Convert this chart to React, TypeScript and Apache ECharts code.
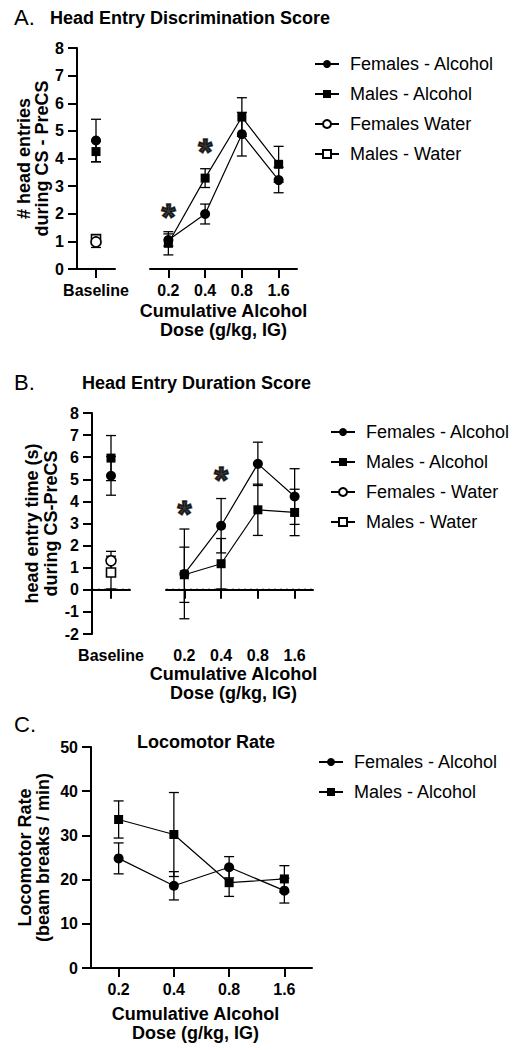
import React, { useEffect, useRef } from "react";
import * as echarts from "echarts";

// ---------- categories ----------
const baselineCats = ["Baseline"];
const doseCats = ["0.2", "0.4", "0.8", "1.6"];

// ---------- Panel A: Head Entry Discrimination Score ----------
const aBaseFemAlc = [4.65];
const aBaseFemAlcSem = [0.77];
const aBaseMaleAlc = [4.25];
const aBaseMaleAlcSem = [0.37];
const aBaseFemWater = [0.98];
const aBaseFemWaterSem = [0.2];
const aBaseMaleWater = [1.08];
const aBaseMaleWaterSem = [0.12];
const aFemAlc = [1.05, 1.99, 4.88, 3.22];
const aFemAlcSem = [0.22, 0.36, 0.79, 0.46];
const aMaleAlc = [0.93, 3.29, 5.5, 3.79];
const aMaleAlcSem = [0.42, 0.34, 0.7, 0.65];
const aSigCats = ["0.2", "0.4"];
const aSigY = [1.85, 4.2];

// ---------- Panel B: Head Entry Duration Score ----------
const bBaseFemAlc = [5.16];
const bBaseFemAlcSem = [0.88];
const bBaseMaleAlc = [5.96];
const bBaseMaleAlcSem = [1.02];
const bBaseFemWater = [1.31];
const bBaseFemWaterSem = [0.43];
const bBaseMaleWater = [0.78];
const bBaseMaleWaterSem = [0.74];
const bFemAlc = [0.72, 2.9, 5.7, 4.22];
const bFemAlcSem = [2.03, 1.23, 0.98, 1.26];
const bMaleAlc = [0.68, 1.18, 3.62, 3.5];
const bMaleAlcSem = [1.25, 1.14, 1.16, 1.05];
const bSigCats = ["0.2", "0.4"];
const bSigY = [3.4, 4.95];
const bZeroRef = [0];

// ---------- Panel C: Locomotor Rate ----------
const cFemAlc = [24.8, 18.6, 22.8, 17.5];
const cFemAlcSem = [3.5, 3.2, 2.4, 2.8];
const cMaleAlc = [33.6, 30.2, 19.3, 20.15];
const cMaleAlcSem = [4.2, 9.5, 3.1, 3.0];

// ---------- tick settings / names ----------
const aYTicks = { min: 0, max: 8, interval: 1 };
const bYTicks = { min: -2, max: 8, interval: 1 };
const cYTicks = { min: 0, max: 50, interval: 10 };

const FEM_ALC = "Females - Alcohol";
const MALE_ALC = "Males - Alcohol";
const FEM_WATER_A = "Females Water";
const FEM_WATER_B = "Females - Water";
const MALE_WATER = "Males - Water";
const DOSE_NAME = "Cumulative Alcohol\nDose (g/kg, IG)";

const FONT = "'Liberation Sans', Arial, sans-serif";
const BLACK = "#000";

const errRender = (params: any, api: any) => {
  const x = api.value(0);
  const m = api.value(1);
  const e = api.value(2);
  const top = api.coord([x, m + e]);
  const bot = api.coord([x, m - e]);
  const hw = 5;
  const style = { stroke: BLACK, lineWidth: 1.3, fill: null };
  return {
    type: "group",
    children: [
      { type: "line", shape: { x1: top[0], y1: top[1], x2: bot[0], y2: bot[1] }, style },
      { type: "line", shape: { x1: top[0] - hw, y1: top[1], x2: top[0] + hw, y2: top[1] }, style },
      { type: "line", shape: { x1: bot[0] - hw, y1: bot[1], x2: bot[0] + hw, y2: bot[1] }, style },
    ],
  };
};

const errSeries = (cats: string[], vals: number[], sems: number[], axis: number) => ({
  type: "custom",
  xAxisIndex: axis,
  yAxisIndex: axis,
  renderItem: errRender,
  data: cats.map((c, i) => [c, vals[i], sems[i]]),
  encode: { x: 0, y: 1 },
  z: 2,
  silent: true,
});

// dotted reference line drawn across the whole grid width
const zeroRender = (params: any, api: any) => {
  const y = api.value(0);
  const p = api.coord([0, y]);
  const cs = params.coordSys;
  return {
    type: "line",
    shape: { x1: cs.x, y1: p[1], x2: cs.x + cs.width, y2: p[1] },
    style: { stroke: BLACK, lineWidth: 2, lineDash: [2, 4], fill: null },
  };
};

const zeroSeries = (vals: number[], axis: number) => ({
  type: "custom",
  xAxisIndex: axis,
  yAxisIndex: axis,
  renderItem: zeroRender,
  data: vals.map((v) => [v]),
  encode: { y: 0 },
  z: 1,
  silent: true,
});

const lineSeries = (
  name: string,
  cats: string[],
  vals: number[],
  axis: number,
  symbol: string,
  filled: boolean
) => ({
  type: "line",
  name,
  xAxisIndex: axis,
  yAxisIndex: axis,
  data: cats.map((c, i) => [c, vals[i]]),
  symbol,
  symbolSize: symbol === "rect" ? 9 : 10,
  showAllSymbol: true,
  lineStyle: { color: BLACK, width: 1.2 },
  itemStyle: filled
    ? { color: BLACK, borderColor: BLACK, borderWidth: 0 }
    : { color: "#fff", borderColor: BLACK, borderWidth: 1.6 },
  z: 3,
  silent: true,
});

const sigSeries = (cats: string[], ys: number[], axis: number) => ({
  type: "scatter",
  xAxisIndex: axis,
  yAxisIndex: axis,
  data: cats.map((c, i) => [c, ys[i]]),
  symbolSize: 1,
  itemStyle: { color: "rgba(0,0,0,0)" },
  label: {
    show: true,
    position: "inside",
    formatter: "*",
    fontSize: 36,
    fontWeight: "bold",
    color: BLACK,
    textBorderWidth: 1.6,
    textBorderColor: BLACK,
    fontFamily: FONT,
  },
  silent: true,
  z: 4,
});

const axisLineStyle = { show: true, lineStyle: { color: BLACK, width: 2 } };
const tickStyle = { show: true, length: 9, lineStyle: { color: BLACK, width: 2 } };
const labelStyle = (margin: number) => ({
  color: BLACK,
  fontSize: 16,
  fontWeight: "bold",
  fontFamily: FONT,
  margin,
});

const xCat = (cats: string[], grid: number, name?: string, nameGap?: number, namePad?: number[]) => ({
  type: "category",
  gridIndex: grid,
  data: cats,
  boundaryGap: true,
  axisLine: axisLineStyle,
  axisTick: { ...tickStyle, alignWithLabel: true },
  axisLabel: labelStyle(13),
  splitLine: { show: false },
  name: name || "",
  nameLocation: "middle",
  nameGap: nameGap || 30,
  nameTextStyle: {
    color: BLACK,
    fontSize: 18,
    fontWeight: "bold",
    fontFamily: FONT,
    lineHeight: 19,
    padding: namePad || [0, 0, 0, 0],
  },
});

const yVal = (t: any, grid: number, show: boolean, name?: string, nameGap?: number, lh?: number) => ({
  type: "value",
  gridIndex: grid,
  min: t.min,
  max: t.max,
  interval: t.interval,
  show,
  axisLine: axisLineStyle,
  axisTick: tickStyle,
  axisLabel: labelStyle(13),
  splitLine: { show: false },
  name: name || "",
  nameLocation: "middle",
  nameRotate: 90,
  nameGap: nameGap || 30,
  nameTextStyle: {
    color: BLACK,
    fontSize: 18,
    fontWeight: "bold",
    fontFamily: FONT,
    lineHeight: lh || 18,
  },
});

const legendCommon = {
  orient: "vertical",
  selectedMode: false,
  itemWidth: 24,
  itemHeight: 10,
  itemGap: 12,
  padding: 0,
  textStyle: { color: BLACK, fontSize: 18, fontFamily: FONT, lineHeight: 18, padding: [0, 0, 0, 6] },
};

const titleStyle = (size: number, bold: boolean) => ({
  color: BLACK,
  fontSize: size,
  fontWeight: bold ? "bold" : "normal",
  fontFamily: FONT,
});

export default function App() {
  const ref = useRef<HTMLDivElement>(null);
  useEffect(() => {
    if (!ref.current) return;
    const chart = echarts.init(ref.current, undefined, { renderer: "svg" });
    const option: any = {
      animation: false,
      backgroundColor: "#fff",
      textStyle: { fontFamily: FONT },
      title: [
        { text: "A.", left: 14, top: 6, padding: 0, textStyle: titleStyle(22, false) },
        { text: "Head Entry Discrimination Score", left: 50, top: 9, padding: 0, textStyle: titleStyle(18, true) },
        { text: "B.", left: 14, top: 371, padding: 0, textStyle: titleStyle(22, false) },
        { text: "Head Entry Duration Score", left: 82, top: 374, padding: 0, textStyle: titleStyle(18, true) },
        { text: "C.", left: 14, top: 713, padding: 0, textStyle: titleStyle(22, false) },
        { text: "Locomotor Rate", left: 137, top: 733, padding: 0, textStyle: titleStyle(18, true) },
      ],
      legend: [
        { ...legendCommon, left: 314, top: 55, data: [FEM_ALC, MALE_ALC, FEM_WATER_A, MALE_WATER] },
        { ...legendCommon, left: 330, top: 423, data: [FEM_ALC, MALE_ALC, FEM_WATER_B, MALE_WATER] },
        { ...legendCommon, left: 318, top: 753, data: [FEM_ALC, MALE_ALC] },
      ],
      grid: [
        { left: 77, top: 48, width: 38, height: 221 },
        { left: 150, top: 48, width: 147, height: 221 },
        { left: 92, top: 413, width: 38, height: 221 },
        { left: 166, top: 413, width: 147, height: 221 },
        { left: 91, top: 747, width: 221, height: 221 },
      ],
      xAxis: [
        xCat(baselineCats, 0),
        xCat(doseCats, 1, DOSE_NAME, 32),
        xCat(baselineCats, 2),
        xCat(doseCats, 3, DOSE_NAME, 30, [0, 12, 0, 0]),
        xCat(doseCats, 4, DOSE_NAME, 36, [0, 12, 0, 0]),
      ],
      yAxis: [
        yVal(aYTicks, 0, true, "# head entries\nduring CS - PreCS", 25, 18),
        yVal(aYTicks, 1, false),
        yVal(bYTicks, 2, true, "head entry time (s)\nduring CS-PreCS", 31, 19),
        yVal(bYTicks, 3, false),
        yVal(cYTicks, 4, true, "Locomotor Rate\n(beam breaks / min)", 39, 18),
      ],
      series: [
        // Panel A baseline
        errSeries(baselineCats, aBaseFemAlc, aBaseFemAlcSem, 0),
        errSeries(baselineCats, aBaseMaleAlc, aBaseMaleAlcSem, 0),
        errSeries(baselineCats, aBaseMaleWater, aBaseMaleWaterSem, 0),
        errSeries(baselineCats, aBaseFemWater, aBaseFemWaterSem, 0),
        lineSeries(FEM_ALC, baselineCats, aBaseFemAlc, 0, "circle", true),
        lineSeries(MALE_ALC, baselineCats, aBaseMaleAlc, 0, "rect", true),
        lineSeries(MALE_WATER, baselineCats, aBaseMaleWater, 0, "rect", false),
        lineSeries(FEM_WATER_A, baselineCats, aBaseFemWater, 0, "circle", false),
        // Panel A dose
        errSeries(doseCats, aFemAlc, aFemAlcSem, 1),
        errSeries(doseCats, aMaleAlc, aMaleAlcSem, 1),
        lineSeries(FEM_ALC, doseCats, aFemAlc, 1, "circle", true),
        lineSeries(MALE_ALC, doseCats, aMaleAlc, 1, "rect", true),
        sigSeries(aSigCats, aSigY, 1),
        // Panel B baseline
        zeroSeries(bZeroRef, 2),
        errSeries(baselineCats, bBaseFemAlc, bBaseFemAlcSem, 2),
        errSeries(baselineCats, bBaseMaleAlc, bBaseMaleAlcSem, 2),
        errSeries(baselineCats, bBaseFemWater, bBaseFemWaterSem, 2),
        errSeries(baselineCats, bBaseMaleWater, bBaseMaleWaterSem, 2),
        lineSeries(FEM_ALC, baselineCats, bBaseFemAlc, 2, "circle", true),
        lineSeries(MALE_ALC, baselineCats, bBaseMaleAlc, 2, "rect", true),
        lineSeries(FEM_WATER_B, baselineCats, bBaseFemWater, 2, "circle", false),
        lineSeries(MALE_WATER, baselineCats, bBaseMaleWater, 2, "rect", false),
        // Panel B dose
        zeroSeries(bZeroRef, 3),
        errSeries(doseCats, bFemAlc, bFemAlcSem, 3),
        errSeries(doseCats, bMaleAlc, bMaleAlcSem, 3),
        lineSeries(FEM_ALC, doseCats, bFemAlc, 3, "circle", true),
        lineSeries(MALE_ALC, doseCats, bMaleAlc, 3, "rect", true),
        sigSeries(bSigCats, bSigY, 3),
        // Panel C
        errSeries(doseCats, cFemAlc, cFemAlcSem, 4),
        errSeries(doseCats, cMaleAlc, cMaleAlcSem, 4),
        lineSeries(FEM_ALC, doseCats, cFemAlc, 4, "circle", true),
        lineSeries(MALE_ALC, doseCats, cMaleAlc, 4, "rect", true),
      ],
    };
    chart.setOption(option);
    return () => chart.dispose();
  }, []);
  return (
    <div
      ref={ref}
      style={{ position: "absolute", left: 0, top: 0, width: 517, height: 1050 }}
    />
  );
}
